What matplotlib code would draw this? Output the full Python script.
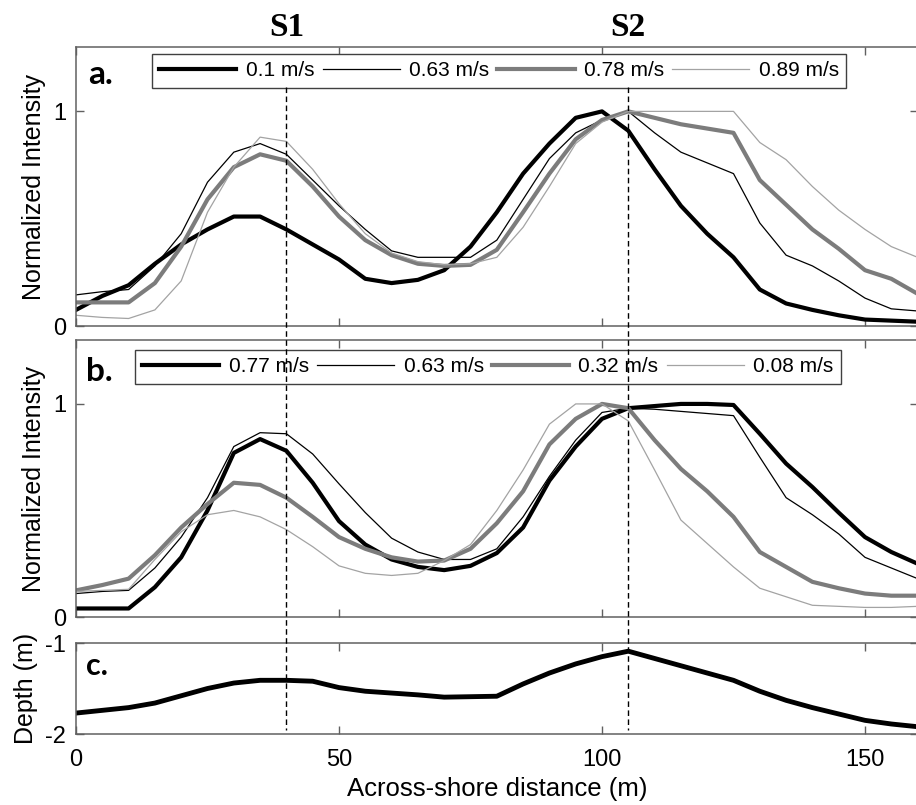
import matplotlib
matplotlib.use("Agg")
import matplotlib.pyplot as plt
from matplotlib.lines import Line2D

plt.rcParams['font.family'] = ['Liberation Sans', 'DejaVu Sans']
plt.rcParams['axes.unicode_minus'] = False

# across-shore positions (m)
distance = [0, 5, 10, 15, 20, 25, 30, 35, 40, 45, 50, 55, 60, 65, 70, 75, 80,
            85, 90, 95, 100, 105, 110, 115, 120, 125, 130, 135, 140, 145, 150,
            155, 160]

# panel a: normalized intensity
labels_a = ["0.1 m/s", "0.63 m/s", "0.78 m/s", "0.89 m/s"]
a_010 = [0.075, 0.14, 0.19, 0.29, 0.38, 0.45, 0.51, 0.51, 0.45, 0.38, 0.31,
         0.22, 0.20, 0.215, 0.26, 0.37, 0.53, 0.71, 0.85, 0.97, 1.0, 0.91,
         0.73, 0.56, 0.43, 0.32, 0.17, 0.105, 0.075, 0.05, 0.03, 0.025, 0.02]
a_063 = [0.145, 0.16, 0.17, 0.28, 0.43, 0.67, 0.81, 0.85, 0.80, 0.68, 0.56,
         0.45, 0.35, 0.32, 0.32, 0.32, 0.40, 0.59, 0.78, 0.90, 0.96, 1.0,
         0.90, 0.81, 0.76, 0.71, 0.48, 0.33, 0.28, 0.21, 0.13, 0.08, 0.07]
a_078 = [0.11, 0.11, 0.11, 0.20, 0.37, 0.59, 0.74, 0.80, 0.77, 0.65, 0.51,
         0.40, 0.33, 0.29, 0.28, 0.285, 0.355, 0.53, 0.71, 0.87, 0.96, 1.0,
         0.97, 0.94, 0.92, 0.90, 0.68, 0.565, 0.45, 0.36, 0.26, 0.22, 0.15]
a_089 = [0.05, 0.04, 0.035, 0.075, 0.21, 0.53, 0.74, 0.88, 0.86, 0.73, 0.57,
         0.43, 0.34, 0.30, 0.285, 0.29, 0.32, 0.46, 0.65, 0.85, 0.95, 1.0,
         1.0, 1.0, 1.0, 1.0, 0.855, 0.775, 0.65, 0.54, 0.45, 0.37, 0.32]

# panel b: normalized intensity
labels_b = ["0.77 m/s", "0.63 m/s", "0.32 m/s", "0.08 m/s"]
b_077 = [0.04, 0.04, 0.04, 0.14, 0.28, 0.50, 0.77, 0.835, 0.78, 0.63, 0.45,
         0.34, 0.27, 0.235, 0.22, 0.24, 0.30, 0.42, 0.64, 0.80, 0.93, 0.98,
         0.99, 1.0, 1.0, 0.995, 0.86, 0.72, 0.61, 0.49, 0.375, 0.305, 0.25]
b_063 = [0.11, 0.12, 0.125, 0.23, 0.375, 0.56, 0.80, 0.865, 0.86, 0.765,
         0.625, 0.49, 0.37, 0.305, 0.27, 0.27, 0.32, 0.47, 0.66, 0.83, 0.96,
         0.98, 0.975, 0.965, 0.955, 0.945, 0.75, 0.56, 0.48, 0.39, 0.28, 0.23,
         0.18]
b_032 = [0.125, 0.15, 0.18, 0.29, 0.42, 0.53, 0.63, 0.62, 0.56, 0.47, 0.375,
         0.32, 0.28, 0.26, 0.265, 0.32, 0.44, 0.59, 0.81, 0.93, 1.0, 0.98,
         0.83, 0.695, 0.59, 0.47, 0.305, 0.235, 0.165, 0.135, 0.11, 0.10, 0.10]
b_008 = [0.12, 0.125, 0.13, 0.27, 0.40, 0.48, 0.50, 0.47, 0.41, 0.33, 0.24,
         0.205, 0.195, 0.205, 0.265, 0.34, 0.50, 0.69, 0.905, 1.0, 1.0, 0.92,
         0.69, 0.455, 0.345, 0.235, 0.135, 0.095, 0.055, 0.05, 0.045, 0.045,
         0.05]

# panel c: depth (m)
depth = [-1.77, -1.74, -1.71, -1.66, -1.58, -1.50, -1.44, -1.41, -1.41, -1.42,
         -1.49, -1.53, -1.55, -1.57, -1.595, -1.59, -1.585, -1.45, -1.33,
         -1.23, -1.15, -1.09, -1.17, -1.25, -1.33, -1.41, -1.53, -1.63, -1.71,
         -1.78, -1.85, -1.89, -1.92]

# sandbar crest positions
s_pos = [40, 105]
s_names = ["S1", "S2"]

# line styles: thick black, thin black, thick gray, thin light gray
styles = [dict(color="black", lw=3.0),
          dict(color="black", lw=0.9),
          dict(color="#7c7c7c", lw=3.0),
          dict(color="#a3a3a3", lw=0.9)]

W, H = 916, 805
fig = plt.figure(figsize=(W / 100, H / 100), dpi=100)

left = 76 / W
width = 841.6 / W
ax_a = fig.add_axes([left, (H - 326) / H, width, 279 / H])
ax_b = fig.add_axes([left, (H - 617) / H, width, 277 / H])
ax_c = fig.add_axes([left, (H - 734) / H, width, 91 / H])

spine_col = "#606060"


def style_axes(ax):
    for sp in ax.spines.values():
        sp.set_color(spine_col)
        sp.set_linewidth(1.1)
    ax.tick_params(direction="in", length=6, width=1.0, color=spine_col,
                   top=True, right=True, labelsize=17)
    ax.tick_params(axis="y", pad=7)
    ax.tick_params(axis="x", pad=11)
    ax.set_xlim(0, 160)
    ax.set_xticks([0, 50, 100, 150])


def add_legend(ax, anchor):
    leg = ax.legend(ncol=4, loc="upper left", bbox_to_anchor=anchor,
                    borderaxespad=0, fontsize=15, handlelength=3.7,
                    handletextpad=0.45, columnspacing=0.4, borderpad=0.35,
                    fancybox=False, framealpha=1)
    leg.get_frame().set_edgecolor("#404040")
    leg.get_frame().set_linewidth(1.0)


# panel a
for ys, st, lb in zip([a_010, a_063, a_078, a_089], styles, labels_a):
    ax_a.plot(distance, ys, label=lb, **st)
ax_a.set_ylim(0, 1.3)
ax_a.set_yticks([0, 1])
style_axes(ax_a)
ax_a.tick_params(labelbottom=False)
ax_a.set_ylabel("Normalized Intensity", fontsize=18, labelpad=5)
add_legend(ax_a, (0.0903, 0.975))
ax_a.text(0.014, 0.90, "a.", transform=ax_a.transAxes, fontsize=24,
          fontweight="bold", family="Lato", va="center", ha="left")

# panel b
for ys, st, lb in zip([b_077, b_063, b_032, b_008], styles, labels_b):
    ax_b.plot(distance, ys, label=lb, **st)
ax_b.set_ylim(0, 1.3)
ax_b.set_yticks([0, 1])
style_axes(ax_b)
ax_b.tick_params(labelbottom=False)
ax_b.set_ylabel("Normalized Intensity", fontsize=18, labelpad=5)
add_legend(ax_b, (0.070, 0.964))
ax_b.text(0.012, 0.888, "b.", transform=ax_b.transAxes, fontsize=24,
          fontweight="bold", family="Lato", va="center", ha="left")

# panel c
ax_c.plot(distance, depth, color="black", lw=3.5)
ax_c.set_ylim(-2, -1)
ax_c.set_yticks([-2, -1])
style_axes(ax_c)
ax_c.set_ylabel("Depth (m)", fontsize=18, labelpad=5)
ax_c.set_xlabel("Across-shore distance (m)", fontsize=18.5, labelpad=4)
ax_c.text(0.012, 0.75, "c.", transform=ax_c.transAxes, fontsize=22,
          fontweight="bold", family="Lato", va="center", ha="left")

# dashed crest markers spanning all panels
for xs, name in zip(s_pos, s_names):
    xf = fig.transFigure.inverted().transform(ax_a.transData.transform((xs, 0)))[0]
    fig.add_artist(Line2D([xf, xf], [(H - 87) / H, (H - 730) / H],
                          transform=fig.transFigure, color="black", lw=1.0,
                          linestyle=(0, (4, 2.5)), zorder=10))
    fig.text(xf, (H - 27) / H, name, ha="center", va="center", fontsize=24,
             fontweight="bold", family="Liberation Serif")

fig.savefig("out.png", dpi=100)
